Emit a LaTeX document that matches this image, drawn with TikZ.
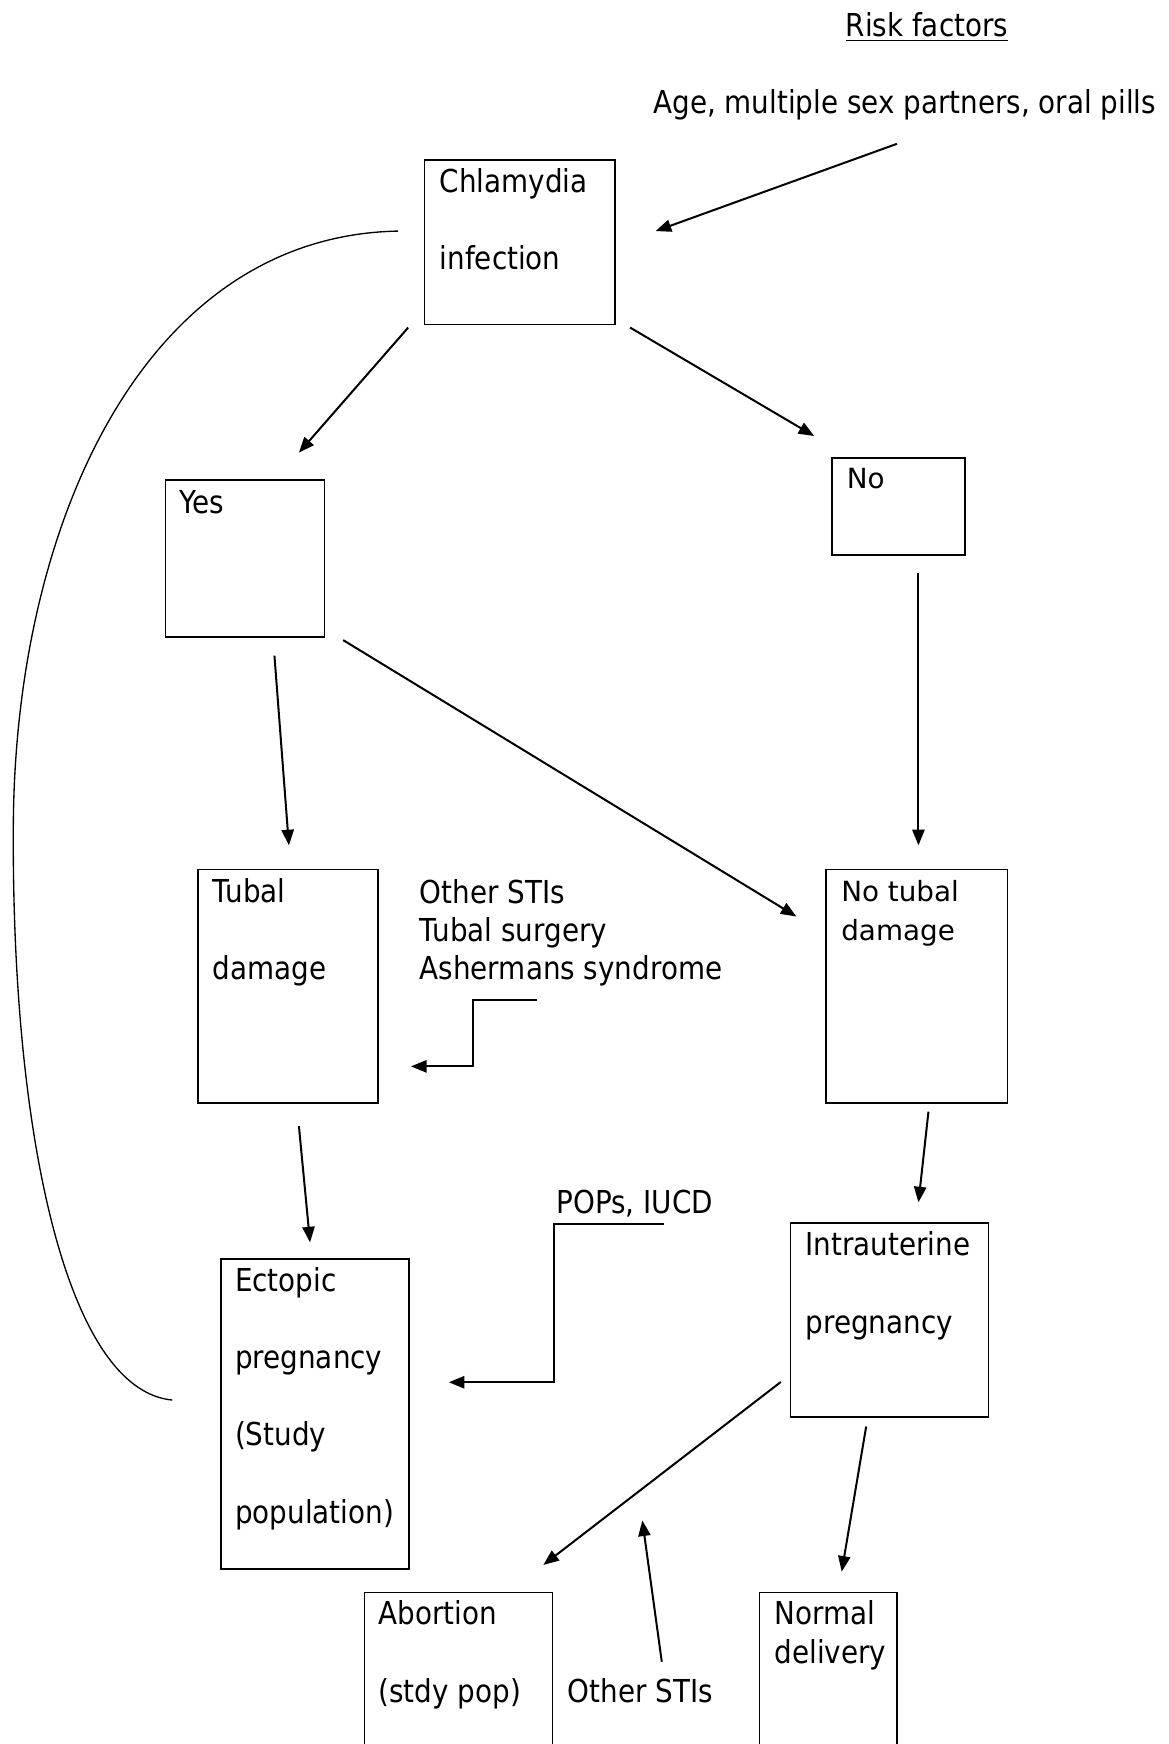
\documentclass[tikz,border=0pt]{standalone}
\usepackage{fontspec}
\usepackage{tikz}
\usetikzlibrary{arrows.meta,calc,positioning}
\newfontfamily\tahfont[FakeStretch=0.88]{DejaVu Sans}
\newfontfamily\verfont{DejaVu Sans}
\newcommand{\onesp}{\tahfont\fontsize{14.2}{17.25}\selectfont}
\newcommand{\twosp}{\tahfont\fontsize{14.2}{34.75}\selectfont}
\newcommand{\versp}{\verfont\fontsize{12.5}{17.5}\selectfont}

\begin{document}
\begin{tikzpicture}[x=0.5pt,y=-0.5pt,
box/.style={draw,line width=0.75pt,inner sep=0,anchor=north west},
txt/.style={inner sep=0,align=left,anchor=north west,font=\twosp},
lbl/.style={inner sep=0,anchor=base west,font=\onesp},
arr/.style={-{Triangle[length=7pt,width=5.5pt]},line width=0.9pt}
]
\useasboundingbox (0,0) rectangle (1051,1568);

% boxes
\node[box,minimum width=85.5pt,minimum height=74pt] (chl) at (381,143) {};
\node[box,minimum width=71.5pt,minimum height=70.5pt] (yes) at (148,431) {};
\node[box,minimum width=60pt,minimum height=43.5pt] (no) at (747,411) {};
\node[box,minimum width=81pt,minimum height=105pt] (tub) at (177,781) {};
\node[box,minimum width=81.5pt,minimum height=105pt] (ntub) at (742,781) {};
\node[box,minimum width=84.5pt,minimum height=139.5pt] (ect) at (198,1131) {};
\node[box,minimum width=89pt,minimum height=87pt] (intra) at (710,1099) {};
\node[box,minimum width=84.5pt,minimum height=100pt] (abo) at (327,1431) {};
\node[box,minimum width=62pt,minimum height=100pt] (norm) at (682,1431) {};

% texts in the boxes
\node[txt] (chlt) at ($(chl.north west)+(14,8)$) {Chlamydia\\infection};
\node[txt,font=\onesp] (yest) at ($(yes.north west)+(13,10)$) {Yes};
\node[txt,font=\versp] (not) at ($(no.north west)+(14,10)$) {No};
\node[txt] (tubt) at ($(tub.north west)+(14,8)$) {Tubal\\damage};
\node[txt,font=\versp] (ntubt) at ($(ntub.north west)+(14,10)$) {No tubal\\damage};
\node[txt] (ectt) at ($(ect.north west)+(13,8)$) {Ectopic\\pregnancy\\(Study\\population)};
\node[txt] (intrat) at ($(intra.north west)+(14,8)$) {Intrauterine\\pregnancy};
\node[txt] (abot) at ($(abo.north west)+(13,8)$) {Abortion\\(stdy pop)};
\node[txt,font=\onesp] (normt) at ($(norm.north west)+(14,8)$) {Normal\\delivery};

% free labels
\node[lbl] (risk) at (760,33) {\underline{Risk factors}};
\node[lbl] (age) at (587,102) {Age, multiple sex partners, oral pills};
\node[txt,font=\onesp] (sti) at (377,790) {Other STIs\\Tubal surgery\\Ashermans syndrome};
\node[lbl] (pops) at (500,1091) {POPs, IUCD};
\node[lbl] (sti2) at (510,1531) {Other STIs};

% arrows
\draw[arr] ($(age.south)+(-7,21)$) -- ($(chl.east)+(36,-10)$);
\draw[arr] ($(chl.south west)+(-14,2)$) -- ($(yes.north)+(48.5,-24)$);
\draw[arr] ($(chl.south east)+(13,2)$) -- ($(no.north west)+(-15,-19)$);
\draw[arr] ($(yes.south)+(26.5,16)$) -- ($(tub.north)+(1,-21)$);
\draw[arr] ($(yes.south east)+(16,2)$) -- ($(ntub.north west)+(-26,43)$);
\draw[arr] ($(no.south)+(18,16)$) -- ($(ntub.north)+(1.5,-21)$);
\draw[arr] ($(tub.south)+(10,20)$) -- ($(ect.north)+(-4.5,-14)$);
\draw[arr] ($(ntub.south)+(10.5,7)$) -- ($(intra.north)+(26,-18)$);
\draw[arr] ($(intra.south west)+(-8,-32)$) -- ($(abo.north east)+(-9,-24)$);
\draw[arr] ($(intra.south)+(-21,8)$) -- ($(norm.north)+(12,-18)$);
\draw[arr] ($(sti2.north west)+(85,-15)$) -- ($(abo.north east)+(80,-64)$);
\draw[arr] ($(sti.south west)+(106,12)$) -- ++(-58,0) |- ($(tub.east)+(29,72)$);
\draw[arr] ($(pops.south west)+(97,6)$) -- ++(-99,0) |- ($(ect.east)+(35,-28.5)$);

% loop from infection to ectopic
\draw[line width=0.6pt] ($(chl.west)+(-23,-10)$) .. controls (130,212) and (14,470) .. (12,740)
  .. controls (10,1020) and (60,1250) .. ($(ect.west)+(-43,-12.5)$);
\end{tikzpicture}
\end{document}
